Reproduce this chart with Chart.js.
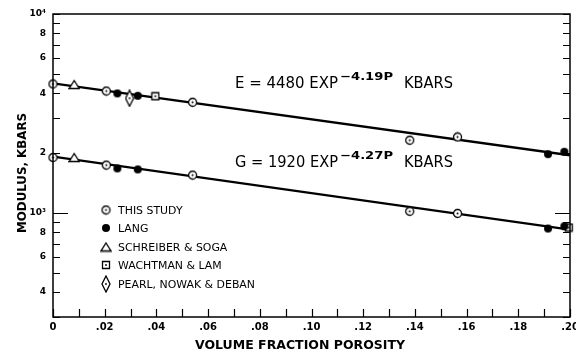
<!DOCTYPE html>
<html>
<head>
<meta charset="utf-8">
<script src="https://cdn.jsdelivr.net/npm/chart.js@4.4.1/dist/chart.umd.min.js"></script>
<style>
  html, body { margin: 0; padding: 0; background: #fff; }
  #wrap { width: 576px; height: 355px; }
</style>
</head>
<body>
<div id="wrap"><canvas id="chart"></canvas></div>
<script>
// values (porosity vs modulus, kbars)
const fitPorosity = [0, 0.20];
const fitE = [4480, 1950];
const fitG = [1920, 825];

const studyP = [0, 0.0206, 0.054, 0.138, 0.1565];
const studyE = [4450, 4100, 3600, 2320, 2410];
const studyG = [1900, 1740, 1550, 1020, 995];

const langP = [0.0249, 0.0328, 0.1915, 0.1978];
const langE = [3990, 3880, 1975, 2030];
const langG = [1675, 1655, 835, 857];

const schreiberP = [0.0082];
const schreiberE = [4420];
const schreiberG = [1900];

const wachtmanEP = [0.0396];
const wachtmanE = [3860];
const wachtmanGP = [0.1995];
const wachtmanG = [845];

const pearlP = [0.0296];
const pearlE = [3770];

const xTickLabels = ['0', '.02', '.04', '.06', '.08', '.10', '.12', '.14', '.16', '.18', '.20'];
const yTickMarks = [300, 400, 500, 600, 700, 800, 900, 1000, 2000, 3000, 4000, 5000, 6000, 7000, 8000, 9000, 10000];
const yLabelValues = [400, 600, 800, 1000, 2000, 4000, 6000, 8000, 10000];
const yTickLabels = ['4', '6', '8', '10\u00b3', '2', '4', '6', '8', '10\u2074'];

const legendNames = ['THIS STUDY', 'LANG', 'SCHREIBER & SOGA', 'WACHTMAN & LAM', 'PEARL, NOWAK & DEBAN'];

const FONT = '"DejaVu Sans", "Liberation Sans", sans-serif';

// marker glyphs
function makeMarker(w, h, draw) {
    const c = document.createElement('canvas');
    c.width = w; c.height = h;
    const g = c.getContext('2d');
    g.lineWidth = 1.3;
    g.strokeStyle = '#000';
    g.fillStyle = '#fff';
    draw(g);
    return c;
}
const dotCircle = makeMarker(11, 11, g => {
    g.beginPath(); g.arc(5.5, 5.5, 4, 0, Math.PI * 2); g.fill(); g.stroke();
    g.fillStyle = '#000'; g.beginPath(); g.arc(5.5, 5.5, 1, 0, Math.PI * 2); g.fill();
});
const filledCircle = makeMarker(10, 10, g => {
    g.fillStyle = '#000'; g.beginPath(); g.arc(5, 5, 4, 0, Math.PI * 2); g.fill();
});
const triangle = makeMarker(12, 11, g => {
    g.beginPath(); g.moveTo(6, 1.5); g.lineTo(11, 9.5); g.lineTo(1, 9.5); g.closePath(); g.fill(); g.stroke();
});
const dotSquare = makeMarker(10, 10, g => {
    g.beginPath(); g.rect(1.5, 1.5, 7, 7); g.fill(); g.stroke();
    g.fillStyle = '#000'; g.beginPath(); g.arc(5, 5, 0.9, 0, Math.PI * 2); g.fill();
});
const diamond = makeMarker(10, 18, g => {
    g.beginPath(); g.moveTo(5, 1); g.lineTo(9, 9); g.lineTo(5, 17); g.lineTo(1, 9); g.closePath(); g.fill(); g.stroke();
    g.fillStyle = '#000'; g.beginPath(); g.arc(5, 9, 0.9, 0, Math.PI * 2); g.fill();
});
const legendMarkers = [dotCircle, filledCircle, triangle, dotSquare, diamond];

const pts = (xs, ys) => xs.map((x, i) => ({ x: x, y: ys[i] }));

function pointSet(data, style) {
    return { data: data, pointStyle: style, pointRadius: 5, showLine: false, clip: false, order: 0 };
}
function fitLine(ys) {
    return {
        data: pts(fitPorosity, ys), showLine: true, pointRadius: 0,
        borderColor: '#000', borderWidth: 2.4, order: 10
    };
}

function fitText(ctx, text, x, y, width, font) {
    ctx.font = font;
    const s = width / ctx.measureText(text).width;
    ctx.save();
    ctx.translate(x, y);
    ctx.scale(s, 1);
    ctx.textAlign = 'left';
    ctx.textBaseline = 'alphabetic';
    ctx.fillText(text, 0, 0);
    ctx.restore();
}

// frame, inward ticks, labels drawn on top of the chart
const decorations = {
    id: 'decorations',
    afterDraw(chart) {
        const ctx = chart.ctx;
        const a = chart.chartArea;
        const xs = chart.scales.x, ys = chart.scales.y;
        ctx.save();
        ctx.strokeStyle = '#000';
        ctx.fillStyle = '#000';
        ctx.lineWidth = 1.5;
        ctx.strokeRect(a.left, a.top, a.right - a.left, a.bottom - a.top);

        ctx.lineWidth = 1.2;
        ctx.beginPath();
        ys.ticks.forEach(t => {
            const y = Math.round(ys.getPixelForValue(t.value)) + 0.5;
            const len = t.value === 1000 ? 15 : 7;
            ctx.moveTo(a.left, y); ctx.lineTo(a.left + len, y);
            ctx.moveTo(a.right, y); ctx.lineTo(a.right - len, y);
        });
        xs.ticks.forEach(t => {
            const x = Math.round(xs.getPixelForValue(t.value)) + 0.5;
            ctx.moveTo(x, a.bottom); ctx.lineTo(x, a.bottom - 8);
        });
        ctx.stroke();

        // fit equations
        fitText(ctx, 'E = 4480 EXP', 235, 88, 103, '15px ' + FONT);
        fitText(ctx, '\u2212' + '4.19P', 340, 80, 53, 'bold 11px ' + FONT);
        fitText(ctx, 'KBARS', 404, 88, 49, '15px ' + FONT);
        fitText(ctx, 'G = 1920 EXP', 235, 167, 103, '15px ' + FONT);
        fitText(ctx, '\u2212' + '4.27P', 340, 158.5, 53, 'bold 11px ' + FONT);
        fitText(ctx, 'KBARS', 404, 167, 49, '15px ' + FONT);

        // legend
        const lf = '11px ' + FONT;
        ctx.font = lf;
        const ls = 137 / ctx.measureText(legendNames[4]).width;
        const rows = [210, 228, 247, 265, 284];
        legendNames.forEach((name, i) => {
            const m = legendMarkers[i];
            ctx.drawImage(m, 106 - m.width / 2, rows[i] - m.height / 2);
            fitText(ctx, name, 118, rows[i] + 4, ctx.measureText(name).width * ls, lf);
            ctx.font = lf;
        });

        // axis titles
        fitText(ctx, 'VOLUME FRACTION POROSITY', 195, 349, 210, 'bold 13px ' + FONT);
        ctx.save();
        ctx.translate(26, 233);
        ctx.rotate(-Math.PI / 2);
        fitText(ctx, 'MODULUS, KBARS', 0, 0, 120, 'bold 13px ' + FONT);
        ctx.restore();
        ctx.restore();
    }
};

new Chart(document.getElementById('chart'), {
    type: 'scatter',
    data: {
        datasets: [
            pointSet(pts(studyP, studyE), dotCircle),
            pointSet(pts(studyP, studyG), dotCircle),
            pointSet(pts(langP, langE), filledCircle),
            pointSet(pts(langP, langG), filledCircle),
            pointSet(pts(schreiberP, schreiberE), triangle),
            pointSet(pts(schreiberP, schreiberG), triangle),
            pointSet(pts(wachtmanEP, wachtmanE), dotSquare),
            pointSet(pts(wachtmanGP, wachtmanG), dotSquare),
            pointSet(pts(pearlP, pearlE), diamond),
            fitLine(fitE),
            fitLine(fitG)
        ]
    },
    options: {
        responsive: true,
        maintainAspectRatio: false,
        animation: false,
        layout: { padding: { top: 14, right: 2, left: 0, bottom: 0 } },
        plugins: { legend: { display: false }, tooltip: { enabled: false } },
        scales: {
            x: {
                type: 'linear', min: 0, max: 0.2,
                grid: { display: false, drawTicks: false }, border: { display: false },
                afterBuildTicks: s => {
                    const t = [];
                    for (let i = 0; i <= 20; i++) t.push({ value: i / 100 });
                    s.ticks = t;
                },
                afterFit: s => { s.height = 38; s.paddingLeft = 0; s.paddingRight = 0; },
                ticks: {
                    autoSkip: false, maxRotation: 0, padding: 4,
                    color: '#000', font: { family: FONT, size: 10, weight: 'bold' },
                    callback: v => {
                        const n = Math.round(v * 100);
                        return n % 2 === 0 ? xTickLabels[n / 2] : '';
                    }
                }
            },
            y: {
                type: 'logarithmic', min: 300, max: 10000,
                grid: { display: false, drawTicks: false }, border: { display: false },
                afterBuildTicks: s => { s.ticks = yTickMarks.map(v => ({ value: v })); },
                afterFit: s => { s.width = 53; s.paddingTop = 0; s.paddingBottom = 0; },
                ticks: {
                    autoSkip: false, padding: 7,
                    color: '#000', font: { family: FONT, size: 9, weight: 'bold' },
                    callback: v => {
                        const i = yLabelValues.indexOf(v);
                        return i < 0 ? '' : yTickLabels[i];
                    }
                }
            }
        }
    },
    plugins: [decorations]
});
</script>
</body>
</html>
